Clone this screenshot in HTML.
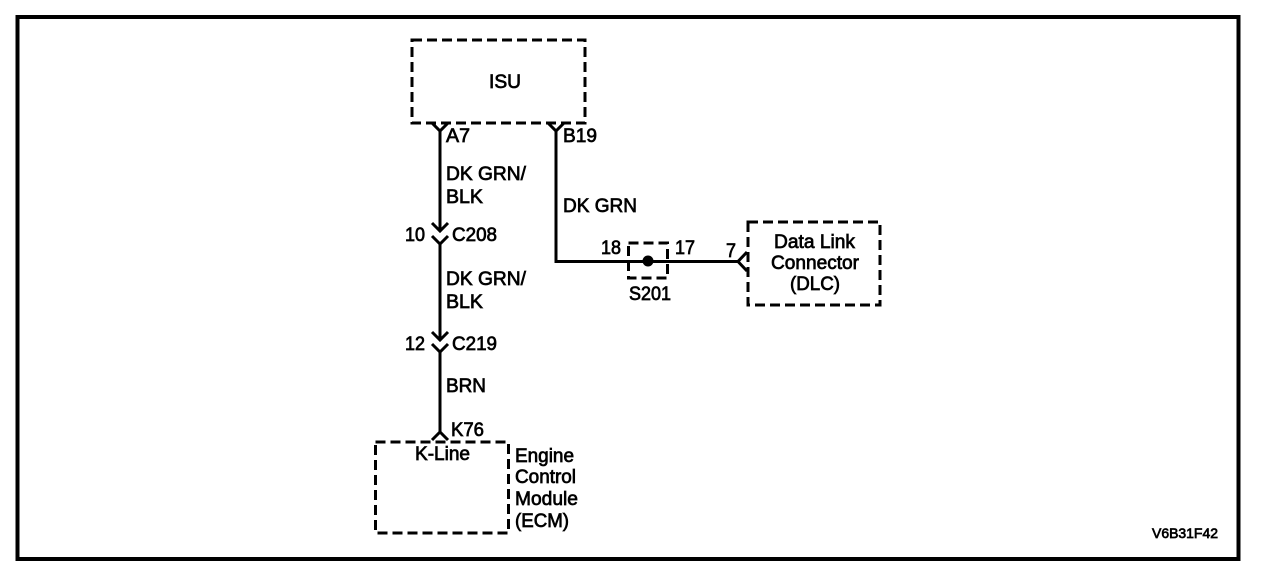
<!DOCTYPE html>
<html>
<head>
<meta charset="utf-8">
<style>
html,body{margin:0;padding:0;background:#fff;width:1280px;height:578px;overflow:hidden}
svg{display:block}
text{font-family:"Liberation Sans",sans-serif;font-size:19px;fill:#000;stroke:#000;stroke-width:.7px}
.s{font-size:14px;stroke-width:.7px}
</style>
</head>
<body>
<svg width="1280" height="578" viewBox="0 0 1280 578" xmlns="http://www.w3.org/2000/svg">
<rect x="0" y="0" width="1280" height="578" fill="#fff"/>
<rect x="17.5" y="17" width="1221" height="542" fill="none" stroke="#000" stroke-width="4"/>

<g fill="none" stroke="#000" stroke-width="3" stroke-dasharray="10 5">
<rect x="412" y="40" width="173" height="83"/>
<rect x="375.5" y="442" width="133" height="91"/>
<rect x="748" y="222" width="132" height="83"/>
<rect x="628.5" y="243" width="39" height="35"/>
</g>

<g fill="none" stroke="#000" stroke-width="3">
<path d="M432 123L440 131L448 123"/>
<path d="M440 131V231"/>
<path d="M432 223L440 231L448 223"/>
<path d="M432 236L440 244L448 236"/>
<path d="M440 244V340"/>
<path d="M432 332L440 340L448 332"/>
<path d="M432 344L440 352L448 344"/>
<path d="M440 352V432"/>
<path d="M432 440L440 432L448 440"/>
<path d="M548 123L556 131L564 123"/>
<path d="M556 131V261.5H738"/>
<path d="M747 252L738 261.5L747 271"/>
</g>
<circle cx="648" cy="261" r="5.5" fill="#000"/>

<text x="489" y="88" textLength="32" lengthAdjust="spacingAndGlyphs">ISU</text>
<text x="446" y="142" textLength="24" lengthAdjust="spacingAndGlyphs">A7</text>
<text x="563" y="142" textLength="34" lengthAdjust="spacingAndGlyphs">B19</text>
<text x="446" y="180" textLength="80" lengthAdjust="spacingAndGlyphs">DK GRN/</text>
<text x="446" y="203" textLength="37" lengthAdjust="spacingAndGlyphs">BLK</text>
<text x="563" y="212" textLength="74" lengthAdjust="spacingAndGlyphs">DK GRN</text>
<text x="405" y="241" textLength="20" lengthAdjust="spacingAndGlyphs">10</text>
<text x="452" y="241" textLength="45" lengthAdjust="spacingAndGlyphs">C208</text>
<text x="446" y="285" textLength="80" lengthAdjust="spacingAndGlyphs">DK GRN/</text>
<text x="446" y="308" textLength="37" lengthAdjust="spacingAndGlyphs">BLK</text>
<text x="405" y="350" textLength="20" lengthAdjust="spacingAndGlyphs">12</text>
<text x="452" y="350" textLength="45" lengthAdjust="spacingAndGlyphs">C219</text>
<text x="446" y="392" textLength="40" lengthAdjust="spacingAndGlyphs">BRN</text>
<text x="451" y="436" textLength="33" lengthAdjust="spacingAndGlyphs">K76</text>
<text x="415" y="460" textLength="55" lengthAdjust="spacingAndGlyphs">K-Line</text>
<text x="515" y="462" textLength="59" lengthAdjust="spacingAndGlyphs">Engine</text>
<text x="515" y="483" textLength="61" lengthAdjust="spacingAndGlyphs">Control</text>
<text x="515" y="505" textLength="63" lengthAdjust="spacingAndGlyphs">Module</text>
<text x="515" y="527" textLength="54" lengthAdjust="spacingAndGlyphs">(ECM)</text>
<text x="601" y="254" textLength="20" lengthAdjust="spacingAndGlyphs">18</text>
<text x="675" y="254" textLength="20" lengthAdjust="spacingAndGlyphs">17</text>
<text x="726" y="257" textLength="10" lengthAdjust="spacingAndGlyphs">7</text>
<text x="629" y="300" textLength="42" lengthAdjust="spacingAndGlyphs">S201</text>
<text x="774" y="248" textLength="81" lengthAdjust="spacingAndGlyphs">Data Link</text>
<text x="771" y="269" textLength="88" lengthAdjust="spacingAndGlyphs">Connector</text>
<text x="790" y="290" textLength="50" lengthAdjust="spacingAndGlyphs">(DLC)</text>
<text class="s" x="1152" y="538" textLength="66" lengthAdjust="spacingAndGlyphs">V6B31F42</text>
</svg>
</body>
</html>
